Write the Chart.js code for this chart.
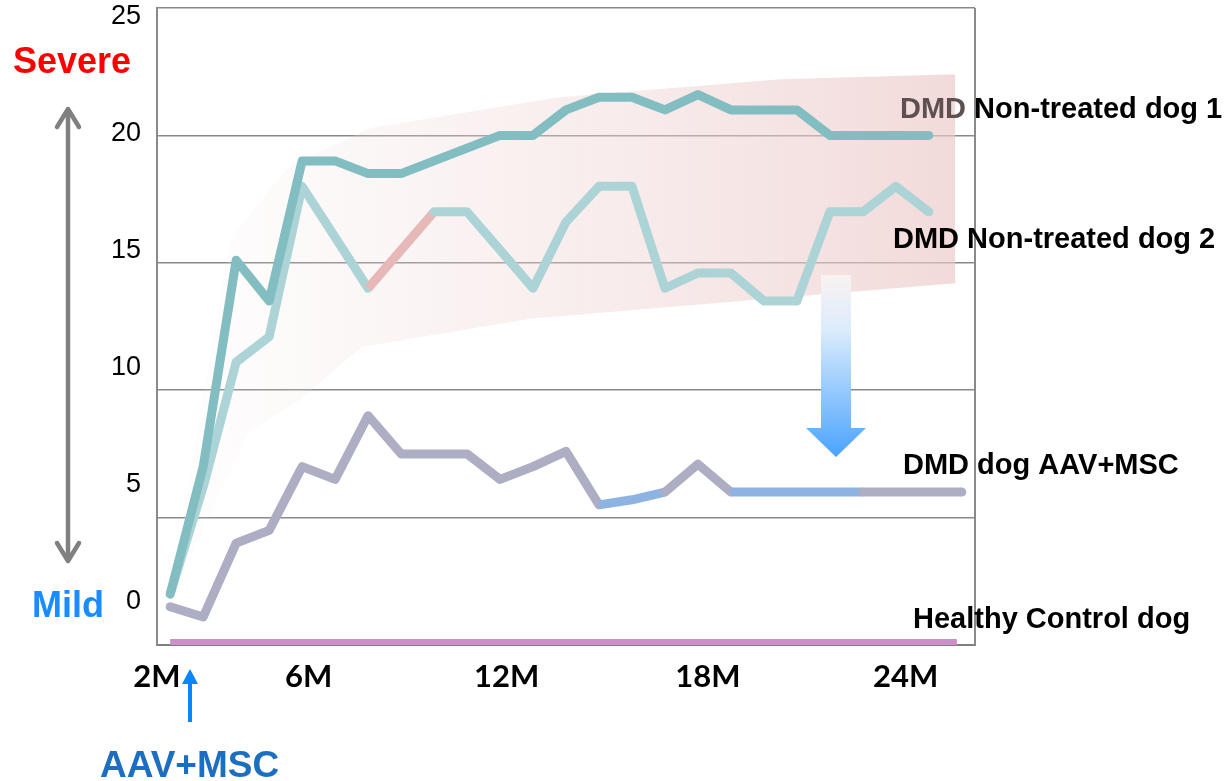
<!DOCTYPE html>
<html>
<head>
<meta charset="utf-8">
<script src="https://cdn.jsdelivr.net/npm/chart.js@4.4.1/dist/chart.umd.min.js"></script>
<style>
    html, body { margin: 0; padding: 0; background: #fff; }
    #wrap { width: 1228px; height: 781px; }
</style>
</head>
<body>
<div id="wrap"><canvas id="scoreChart" width="1228" height="781"></canvas></div>
<script>
// ==========================================
// DATA (clinical score by age in months)
// ==========================================

const months = [2, 3, 4, 5, 6, 7, 8, 9, 10, 11, 12, 13, 14, 15, 16, 17, 18, 19, 20, 21, 22, 23, 24, 25];
const dog1Scores = [2.0, 7.0, 15.1, 13.5, 19.0, 19.0, 18.5, 18.5, 19.0, 19.5, 20.0, 20.0, 21.0, 21.5, 21.5, 21.0, 21.6, 21.0, 21.0, 21.0, 20.0, 20.0, 20.0, 20.0];
// month 9 missing for dog 2 (bridged by the pink segment)
const dog2Scores = [2.0, 6.2, 11.1, 12.1, 18.0, 16.0, 14.0, null, 17.0, 17.0, 15.5, 14.0, 16.6, 18.0, 18.0, 14.0, 14.6, 14.6, 13.5, 13.5, 17.0, 17.0, 18.0, 17.0];

const treatedMonths = [2, 3, 4, 5, 6, 7, 8, 9, 10, 11, 12, 13, 14, 15, 16, 17, 18, 19, 20, 21, 22, 23, 24, 25, 26];
const treatedScores = [1.5, 1.1, 4.0, 4.5, 7.0, 6.5, 9.0, 7.5, 7.5, 7.5, 6.5, 7.0, 7.6, 5.5, 5.7, 6.0, 7.1, 6.0, 6.0, 6.0, 6.0, 6.0, 6.0, 6.0, 6.0];

const healthyMonths = [2, 25.85];
const healthyScores = [0.1, 0.1];

// shaded range of non-treated dogs
const bandUpperMonths = [2, 3.8, 5.6, 8.1, 13.8, 20.5, 25.9];
const bandUpper = [2.2, 15.9, 18.8, 20.3, 21.5, 22.2, 22.4];
const bandLowerMonths = [2, 4.4, 5.9, 7.8, 12.9, 21.1, 25.8];
const bandLower = [1.8, 8.4, 9.6, 11.7, 12.8, 13.7, 14.2];

// segments highlighted (start month of each segment)
const pinkSegmentStarts = [8];
const blueSegmentStarts = [15, 16, 19, 20, 21, 22];

const xTickAt = [1.6, 6.2, 12.2, 18.3, 24.3];
const xTickLabels = ['2M', '6M', '12M', '18M', '24M'];
const yTicks = [0, 5, 10, 15, 20, 25];

const COLORS = {
    dog1: '#82bdc1',
    dog2: '#acd4d6',
    treated: '#adadc3',
    blue: '#8db3e2',
    pink: '#e6b9b8',
    healthy: '#cc8fcc',
    grid: '#8a8a8a'
};

function toPoints(xs, ys) {
    return xs.map((x, i) => ({ x: x, y: ys[i] })).filter(p => p.y !== null);
}

function bandFill(ctx) {
    const ca = ctx.chart.chartArea;
    if (!ca) return 'rgba(0,0,0,0)';
    const g = ctx.chart.ctx.createLinearGradient(ca.left + 10, 0, ca.right - 15, 0);
    g.addColorStop(0, 'rgba(242,226,226,0.05)');
    g.addColorStop(0.35, 'rgba(240,215,215,0.3)');
    g.addColorStop(1, 'rgba(236,200,200,0.68)');
    return g;
}

// ==========================================
// ANNOTATIONS (text + arrows around the plot)
// ==========================================

const annotations = {
    id: 'annotations',
    afterDraw(chart) {
        const c = chart.ctx;
        const ca = chart.chartArea;
        c.save();

        // right frame line
        c.strokeStyle = COLORS.grid;
        c.lineWidth = 2;
        c.beginPath();
        c.moveTo(ca.right, ca.top);
        c.lineTo(ca.right, ca.bottom);
        c.stroke();

        // severity double arrow
        c.strokeStyle = '#808080';
        c.lineWidth = 4.5;
        c.lineCap = 'round';
        c.lineJoin = 'round';
        c.beginPath();
        c.moveTo(68, 110); c.lineTo(68, 560);
        c.moveTo(57, 127); c.lineTo(68, 109); c.lineTo(79, 127);
        c.moveTo(57, 543); c.lineTo(68, 561); c.lineTo(79, 543);
        c.stroke();

        c.textBaseline = 'alphabetic';
        c.textAlign = 'left';
        c.font = 'bold 36px "Liberation Sans", Arial, sans-serif';
        c.fillStyle = '#ff0000';
        c.fillText('Severe', 13, 73);
        c.fillStyle = '#1a8cff';
        c.fillText('Mild', 32, 617);

        c.font = 'bold 37px "Liberation Sans", Arial, sans-serif';
        c.fillStyle = '#1c6fc0';
        c.fillText('AAV+MSC', 100, 777);

        // treatment arrow
        c.strokeStyle = '#0a84ff';
        c.fillStyle = '#0a84ff';
        c.lineWidth = 4;
        c.lineCap = 'butt';
        c.beginPath();
        c.moveTo(190, 722); c.lineTo(190, 680);
        c.stroke();
        c.beginPath();
        c.moveTo(190, 669); c.lineTo(198, 684); c.lineTo(182, 684);
        c.closePath();
        c.fill();

        // improvement arrow
        const g = c.createLinearGradient(0, 275, 0, 457);
        g.addColorStop(0, 'rgba(250,242,242,1)');
        g.addColorStop(0.3, '#dcecfc');
        g.addColorStop(1, '#4aa3ff');
        c.fillStyle = g;
        c.beginPath();
        c.moveTo(821, 275); c.lineTo(851, 275); c.lineTo(851, 428);
        c.lineTo(866, 428); c.lineTo(836, 457); c.lineTo(806, 428);
        c.lineTo(821, 428);
        c.closePath();
        c.fill();

        // series labels
        c.font = 'bold 29px "Liberation Sans", Arial, sans-serif';
        c.textBaseline = 'middle';
        c.fillStyle = '#5e5050';
        c.fillText('DMD', 900, 110);
        const w = c.measureText('DMD').width;
        c.fillStyle = '#000';
        c.fillText(' Non-treated dog 1', 900 + w, 110);
        c.fillText('DMD Non-treated dog 2', 893, 240);
        c.fillText('DMD dog AAV+MSC', 903, 466);
        c.fillText('Healthy Control dog', 913, 620);

        c.restore();
    }
};

// ==========================================
// CHART
// ==========================================

function initScoreChart() {
    const ctx = document.getElementById('scoreChart');

    new Chart(ctx, {
        type: 'line',
        data: {
            datasets: [
                {
                    label: 'range upper',
                    data: toPoints(bandUpperMonths, bandUpper),
                    borderWidth: 0,
                    pointRadius: 0,
                    fill: false,
                    order: 5
                },
                {
                    label: 'range lower',
                    data: toPoints(bandLowerMonths, bandLower),
                    borderWidth: 0,
                    pointRadius: 0,
                    fill: '-1',
                    backgroundColor: bandFill,
                    order: 5
                },
                {
                    label: 'Healthy Control dog',
                    data: toPoints(healthyMonths, healthyScores),
                    borderColor: COLORS.healthy,
                    borderWidth: 7,
                    borderCapStyle: 'butt',
                    pointRadius: 0,
                    order: 1
                },
                {
                    label: 'DMD dog AAV+MSC',
                    data: toPoints(treatedMonths, treatedScores),
                    borderColor: COLORS.treated,
                    borderWidth: 9,
                    borderCapStyle: 'round',
                    borderJoinStyle: 'round',
                    pointRadius: 0,
                    segment: {
                        borderColor: s => blueSegmentStarts.includes(s.p0.parsed.x) ? COLORS.blue : undefined,
                        borderCapStyle: s => blueSegmentStarts.includes(s.p0.parsed.x) ? 'butt' : undefined
                    },
                    order: 2
                },
                {
                    label: 'DMD Non-treated dog 2',
                    data: toPoints(months, dog2Scores),
                    borderColor: COLORS.dog2,
                    borderWidth: 9,
                    borderCapStyle: 'round',
                    borderJoinStyle: 'round',
                    pointRadius: 0,
                    segment: {
                        borderColor: s => pinkSegmentStarts.includes(s.p0.parsed.x) ? COLORS.pink : undefined,
                        borderCapStyle: s => pinkSegmentStarts.includes(s.p0.parsed.x) ? 'butt' : undefined
                    },
                    order: 1
                },
                {
                    label: 'DMD Non-treated dog 1',
                    data: toPoints(months, dog1Scores),
                    borderColor: COLORS.dog1,
                    borderWidth: 9,
                    borderCapStyle: 'round',
                    borderJoinStyle: 'round',
                    pointRadius: 0,
                    order: 0
                }
            ]
        },
        options: {
            responsive: false,
            animation: false,
            events: [],
            layout: {
                padding: { top: 8, right: 253, bottom: 0, left: 0 }
            },
            plugins: {
                legend: { display: false },
                tooltip: { enabled: false }
            },
            scales: {
                x: {
                    type: 'linear',
                    min: 1.6,
                    max: 26.4,
                    afterFit: s => {
                        s.height = 136;
                        s.paddingLeft = 0;
                        s.paddingRight = 0;
                    },
                    afterBuildTicks: s => { s.ticks = xTickAt.map(v => ({ value: v })); },
                    grid: { display: false },
                    border: { display: true, color: '#7f7f7f', width: 2 },
                    ticks: {
                        autoSkip: false,
                        maxRotation: 0,
                        padding: 5,
                        color: '#000',
                        font: { family: 'Lato', weight: 'bold', size: 31 },
                        callback: (v, i) => xTickLabels[i]
                    }
                },
                y: {
                    min: 0,
                    max: 25,
                    weight: 0,
                    afterFit: s => {
                        s.width = 0;
                        s.paddingTop = 0;
                        s.paddingBottom = 0;
                    },
                    afterBuildTicks: s => { s.ticks = yTicks.map(v => ({ value: v })); },
                    grid: { color: COLORS.grid, lineWidth: 1.6, drawTicks: false },
                    border: { display: true, color: COLORS.grid, width: 2 },
                    ticks: { display: false }
                },
                // tick labels sit slightly off the gridlines in the original figure
                yLabels: {
                    position: 'left',
                    min: -1.84,
                    max: 25.38,
                    weight: 1,
                    afterFit: s => {
                        s.width = 157;
                        s.paddingTop = 0;
                        s.paddingBottom = 0;
                    },
                    afterBuildTicks: s => { s.ticks = yTicks.map(v => ({ value: v })); },
                    grid: { display: false },
                    border: { display: false },
                    ticks: {
                        padding: 8,
                        color: '#000',
                        font: { family: 'Liberation Sans', size: 27 }
                    }
                }
            }
        },
        plugins: [annotations]
    });
}

document.addEventListener('DOMContentLoaded', function() {
    initScoreChart();
});
</script>
</body>
</html>
